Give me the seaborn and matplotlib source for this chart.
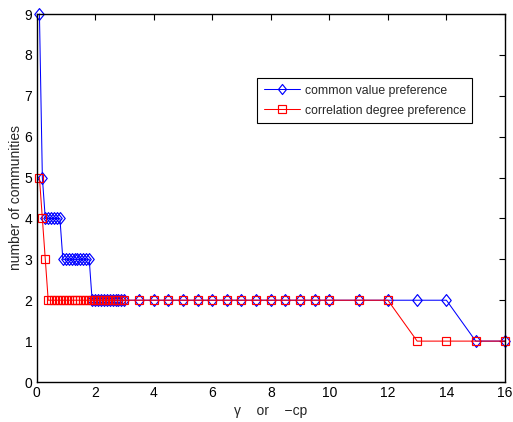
import numpy as np
import pandas as pd
import matplotlib
matplotlib.use("Agg")
import matplotlib.pyplot as plt
from matplotlib.path import Path
import seaborn as sns

# resolution parameter values
gamma = [0.1, 0.2, 0.3, 0.4, 0.5, 0.6, 0.7, 0.8, 0.9, 1.0,
         1.1, 1.2, 1.3, 1.4, 1.5, 1.6, 1.7, 1.8, 1.9, 2.0,
         2.1, 2.2, 2.3, 2.4, 2.5, 2.6, 2.7, 2.8, 2.9, 3.0,
         3.5, 4.0, 4.5, 5.0, 5.5, 6.0, 6.5, 7.0, 7.5, 8.0,
         8.5, 9.0, 9.5, 10.0, 11.0, 12.0, 13.0, 14.0, 15.0, 16.0]

# number of communities found
common_value = [9, 5, 4, 4, 4, 4, 4, 4, 3, 3,
                3, 3, 3, 3, 3, 3, 3, 3, 2, 2,
                2, 2, 2, 2, 2, 2, 2, 2, 2, 2,
                2, 2, 2, 2, 2, 2, 2, 2, 2, 2,
                2, 2, 2, 2, 2, 2, 2, 2, 1, 1]
correlation_degree = [5, 4, 3, 2, 2, 2, 2, 2, 2, 2,
                      2, 2, 2, 2, 2, 2, 2, 2, 2, 2,
                      2, 2, 2, 2, 2, 2, 2, 2, 2, 2,
                      2, 2, 2, 2, 2, 2, 2, 2, 2, 2,
                      2, 2, 2, 2, 2, 2, 1, 1, 1, 1]

series_names = ["common value preference", "correlation degree preference"]
x_ticks = [0, 2, 4, 6, 8, 10, 12, 14, 16]
y_ticks = [0, 1, 2, 3, 4, 5, 6, 7, 8, 9]

sns.set_style("white")
plt.rcParams["font.family"] = ["Liberation Sans", "DejaVu Sans"]

df = pd.DataFrame({"gamma": gamma,
                   series_names[0]: common_value,
                   series_names[1]: correlation_degree})

# a slightly tall rhombus
diamond = Path([(0, 1), (0.8, 0), (0, -1), (-0.8, 0), (0, 1)],
               [Path.MOVETO, Path.LINETO, Path.LINETO, Path.LINETO, Path.CLOSEPOLY])

fig = plt.figure(figsize=(5.13, 4.22), dpi=100)
ax = fig.add_axes([36.5 / 513, 1 - 382 / 422, (505 - 36.5) / 513, (382 - 14) / 422])

styles = [("#0000ff", diamond, 8.5), ("#ff0000", "s", 6)]
for name, (col, mk, ms) in zip(series_names, styles):
    sns.lineplot(data=df, x="gamma", y=name, ax=ax, color=col,
                 marker=mk, markersize=ms, markerfacecolor="none",
                 markeredgecolor=col, markeredgewidth=0.85, linewidth=0.75,
                 label=name, estimator=None, sort=False)

# clip to the figure instead of the axes so edge markers show in full
for line in ax.lines:
    line.set_clip_box(fig.bbox)

ax.set_xlim(0, 16)
ax.set_ylim(0, 9)
ax.set_xticks(x_ticks)
ax.set_yticks(y_ticks)
ax.tick_params(direction="in", length=4, width=0.8, top=True, right=True,
               labelsize=10, colors="black", pad=3)
for s in ax.spines.values():
    s.set_visible(True)
    s.set_color("black")
    s.set_linewidth(1.0)

ax.set_xlabel("γ    or    −cp", fontsize=10, labelpad=3)
ax.set_ylabel("number of communities", fontsize=10, labelpad=1)

leg = ax.legend(loc="upper left", bbox_to_anchor=((257 - 36.5) / 468.5, 1 - (78 - 14) / 368),
                fontsize=8.8, frameon=True, fancybox=False, edgecolor="black",
                framealpha=1, borderpad=0.55, handlelength=3.0, handletextpad=0.35,
                labelspacing=0.65, borderaxespad=0, markerscale=0.85)
leg.get_frame().set_linewidth(0.8)

fig.savefig("out.png", dpi=100)
